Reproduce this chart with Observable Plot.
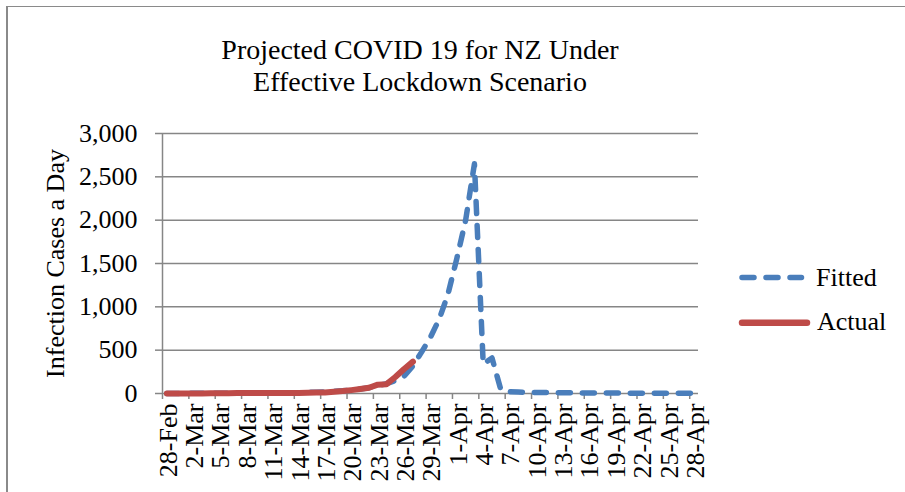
<!DOCTYPE html>
<html><head><meta charset="utf-8">
<script src="https://cdn.jsdelivr.net/npm/d3@7"></script>
<script src="https://cdn.jsdelivr.net/npm/@observablehq/plot@0.6"></script>
<style>
html,body{margin:0;padding:0;background:#fff;}
#wrap{position:relative;width:905px;height:492px;overflow:hidden;font-family:"Liberation Serif","Times New Roman",serif;background:#fff;}
#chart{position:absolute;left:0;top:0;}
#border{position:absolute;left:6px;top:6px;width:1000px;height:1000px;border-left:2px solid #8a8a8a;border-top:1.5px solid #8a8a8a;pointer-events:none;}
#title{position:absolute;left:0;width:840px;top:34px;text-align:center;font-size:28px;line-height:32px;color:#000;}
#legend{position:absolute;left:0;top:0;pointer-events:none;}
</style></head>
<body>
<div id="wrap">
  <div id="chart"></div>
  <div id="border"></div>
  <div id="title">Projected COVID 19 for NZ Under<br>Effective Lockdown Scenario</div>
  <svg id="legend" width="905" height="492" font-family="Liberation Serif, Times New Roman, serif" font-size="26">
    <line x1="742" y1="277.5" x2="801.5" y2="277.5" stroke="#4A7EBB" stroke-width="5.5" stroke-dasharray="12 12" stroke-linecap="round"/>
    <text x="816" y="286" fill="#000">Fitted</text>
    <line x1="742" y1="322.7" x2="807" y2="322.7" stroke="#BE4B48" stroke-width="6.5" stroke-linecap="round"/>
    <text x="817" y="330" fill="#000">Actual</text>
  </svg>
</div>
<script>
// ---- data ----
const dates = [
  "2020-02-28","2020-02-29",
  "2020-03-01","2020-03-02","2020-03-03","2020-03-04","2020-03-05","2020-03-06","2020-03-07","2020-03-08","2020-03-09","2020-03-10",
  "2020-03-11","2020-03-12","2020-03-13","2020-03-14","2020-03-15","2020-03-16","2020-03-17","2020-03-18","2020-03-19","2020-03-20",
  "2020-03-21","2020-03-22","2020-03-23","2020-03-24","2020-03-25","2020-03-26","2020-03-27","2020-03-28","2020-03-29","2020-03-30","2020-03-31",
  "2020-04-01","2020-04-02","2020-04-03","2020-04-04","2020-04-05","2020-04-06","2020-04-07","2020-04-08","2020-04-09","2020-04-10",
  "2020-04-11","2020-04-12","2020-04-13","2020-04-14","2020-04-15","2020-04-16","2020-04-17","2020-04-18","2020-04-19","2020-04-20",
  "2020-04-21","2020-04-22","2020-04-23","2020-04-24","2020-04-25","2020-04-26","2020-04-27","2020-04-28"
];
const fitted = [
  1,1,1,2,2,2,3,3,4,4,
  5,6,6,7,8,10,12,15,19,24,
  31,40,52,67,88,115,150,200,320,480,
  650,860,1150,1560,2000,2650,340,410,45,20,
  16,14,12,11,10,9,8,7,7,6,
  6,5,5,4,4,4,3,3,3,2,2
];
const actual = [
  1,1,1,1,1,2,3,4,5,5,
  5,5,5,5,5,6,8,12,12,20,
  28,39,52,66,102,108,190,283,368
];
const tickLabels = ["28-Feb","2-Mar","5-Mar","8-Mar","11-Mar","14-Mar","17-Mar","20-Mar","23-Mar","26-Mar","29-Mar",
  "1-Apr","4-Apr","7-Apr","10-Apr","13-Apr","16-Apr","19-Apr","22-Apr","25-Apr","28-Apr"];
const yTicks = [0,500,1000,1500,2000,2500,3000];
const yTitle = "Infection Cases a Day";

// ---- build ----
const gray = "#868686", blue = "#4A7EBB", red = "#BE4B48";
const parse = d3.utcParse("%Y-%m-%d");
const fittedData = dates.map((d,i)=>({date: parse(d), value: fitted[i]}));
const actualData = actual.map((v,i)=>({date: parse(dates[i]), value: v}));
const labelDates = tickLabels.map((_,i)=>parse(dates[i*3]));
const tickDates = labelDates.map(d=>d3.utcHour.offset(d,-12));
const x0 = d3.utcHour.offset(parse(dates[0]), -12);
const x1 = d3.utcHour.offset(parse(dates[dates.length-1]), 12);

const chart = Plot.plot({
  width: 905, height: 492,
  marginLeft: 162, marginRight: 207, marginTop: 133, marginBottom: 99,
  style: {fontFamily: "Liberation Serif, Times New Roman, serif", fontSize: "26px", color: "black", background: "transparent", overflow: "visible"},
  x: {type: "utc", domain: [x0, x1], axis: null},
  y: {domain: [0, 3000], axis: null},
  marks: [
    Plot.gridY(yTicks.filter(v=>v>0), {stroke: gray, strokeOpacity: 1, strokeWidth: 1.5}),
    Plot.ruleY([0], {stroke: gray, strokeWidth: 1.5}),
    Plot.ruleX([x0], {stroke: gray, strokeWidth: 1.5}),
    Plot.axisY(yTicks, {tickSize: 7, tickPadding: 18, tickFormat: d3.format(","), stroke: gray, strokeWidth: 1.5, fill: "black", label: null}),
    Plot.axisX(tickDates, {tickSize: 6, tickFormat: () => "", stroke: gray, strokeWidth: 1.5, label: null}),
    Plot.text(labelDates, {x: d=>d, text: (d,i)=>tickLabels[i], frameAnchor: "bottom", dy: 10, dx: 1.5, rotate: -90, textAnchor: "end", lineAnchor: "middle", fill: "black"}),
    Plot.text([yTitle], {text: d=>d, frameAnchor: "left", dx: -107, rotate: -90, textAnchor: "middle", lineAnchor: "middle", fill: "black"}),
    Plot.line(fittedData, {x: "date", y: "value", stroke: blue, strokeWidth: 5.5, strokeDasharray: "12,12", strokeLinecap: "round", strokeLinejoin: "round"}),
    Plot.line(actualData, {x: "date", y: "value", stroke: red, strokeWidth: 6, strokeLinecap: "round", strokeLinejoin: "round"})
  ]
});
document.getElementById("chart").appendChild(chart);
</script>
</body></html>
